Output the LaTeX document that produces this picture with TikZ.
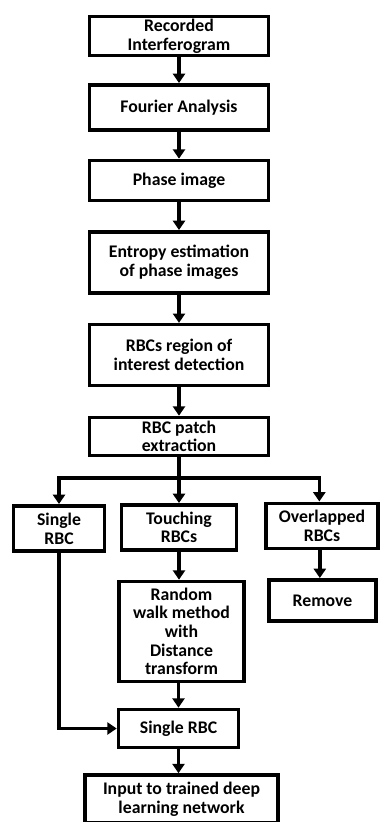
\documentclass[tikz,border=0pt]{standalone}
\usepackage{fontspec}
\setmainfont{Carlito}
\usetikzlibrary{arrows.meta}

\begin{document}
\begin{tikzpicture}[x=0.75pt,y=-0.75pt,
    box/.style={draw, line width=2.7pt, align=center, inner sep=1pt,
        font=\fontsize{13.3}{14}\selectfont\bfseries},
    arr/.style={line width=2.7pt, -{Triangle[width=9pt,length=7pt]}},
    lin/.style={line width=2.7pt}]
            % Рамка
            \useasboundingbox (0,0) rectangle (382,822);
            \clip (0,0) rectangle (382,822);

            % Блоки
            \node[box, minimum width=134pt, minimum height=29pt] (rec) at (179,36) {Recorded\\Interferogram};
            \node[box, minimum width=134pt, minimum height=34pt] (four) at (179,107.5) {Fourier Analysis};
            \node[box, minimum width=134pt, minimum height=30pt] (phase) at (179,180.5) {Phase image};
            \node[box, minimum width=134pt, minimum height=46pt] (entropy) at (179,262.5) {Entropy estimation\\of phase images};
            \node[box, minimum width=134pt, minimum height=45.5pt] (roi) at (179,355) {RBCs region of\\interest detection};
            \node[box, minimum width=134pt, minimum height=28.5pt] (patch) at (179,436.5) {RBC patch\\extraction};

            \node[box, minimum width=68pt, minimum height=34pt] (single) at (59,528.5) {Single\\RBC};
            \node[box, minimum width=86pt, minimum height=34pt] (touch) at (179,527.5) {Touching\\RBCs};
            \node[box, minimum width=84pt, minimum height=34pt] (overlap) at (322,526) {Overlapped\\RBCs};
            \node[box, minimum width=80pt, minimum height=31pt] (remove) at (322.5,600.5) {Remove};
            \node[box, minimum width=94pt, minimum height=75pt] (walk) at (181.5,631.5) {Random\\walk method\\with\\Distance\\transform};
            \node[box, minimum width=90pt, minimum height=28.5pt] (single2) at (178.5,728.5) {Single RBC};
            \node[box, minimum width=145pt, minimum height=36pt] (input) at (181.5,799) {Input to trained deep\\learning network};

            % Стрелки
            \coordinate (split) at (179,478);
            \draw[arr] (rec) -- (four);
            \draw[arr] (four) -- (phase);
            \draw[arr] (phase) -- (entropy);
            \draw[arr] (entropy) -- (roi);
            \draw[arr] (roi) -- (patch);
            \draw[arr] (patch) -- (touch);
            \draw[arr] (split) -| (single);
            \draw[arr] (split) -| ([xshift=-2pt]overlap.north);
            \draw[arr] (overlap.south -| remove.north) ++(-2pt,0) -- ([xshift=-2pt]remove.north);
            \draw[arr] (touch) -- (walk.north -| touch);
            \draw[arr] (walk.south -| single2) -- (single2);
            \draw[arr] (single) |- (single2);
            \draw[arr] (single2.south) -- (input.north -| single2);

        \end{tikzpicture}
\end{document}
